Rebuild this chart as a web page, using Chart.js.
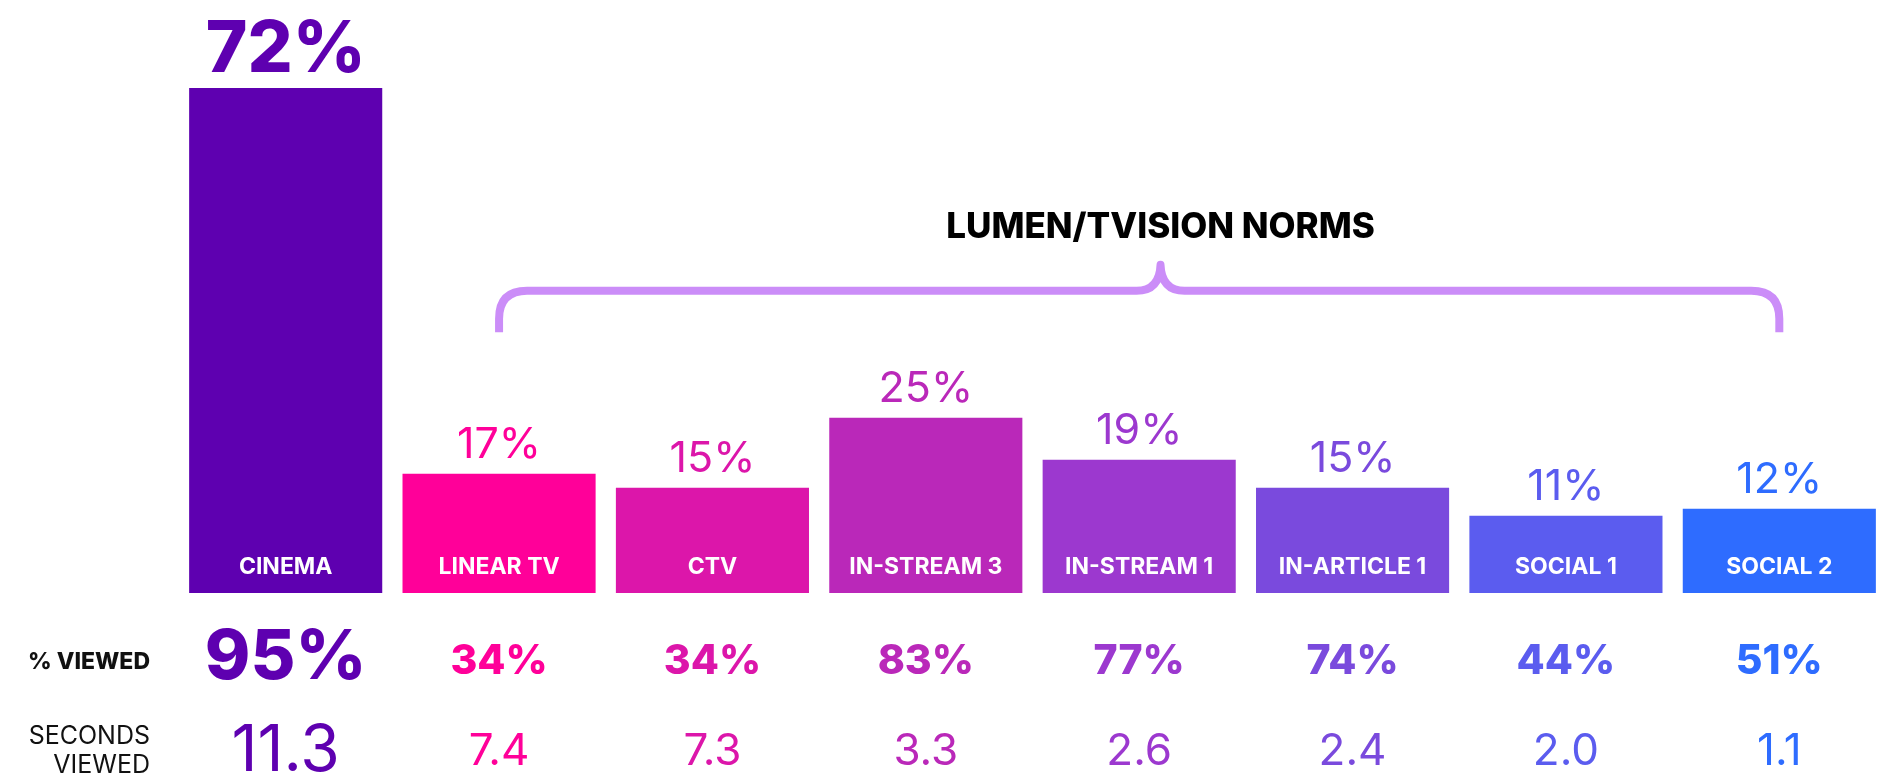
<!DOCTYPE html>
<html>
<head>
<meta charset="utf-8">
<script src="https://cdn.jsdelivr.net/npm/chart.js@4/dist/chart.umd.min.js"></script>
<style>
  html, body { margin: 0; padding: 0; background: #ffffff; }
  #wrap { width: 1891px; height: 778px; }
</style>
</head>
<body>
<div id="wrap"><canvas id="c" width="1891" height="778"></canvas></div>
<script>
// ---- data ----
const categories = ['CINEMA', 'LINEAR TV', 'CTV', 'IN-STREAM 3', 'IN-STREAM 1', 'IN-ARTICLE 1', 'SOCIAL 1', 'SOCIAL 2'];
const attentionShare = [72, 17, 15, 25, 19, 15, 11, 12];
const pctViewed = [95, 34, 34, 83, 77, 74, 44, 51];
const secondsViewed = [11.3, 7.4, 7.3, 3.3, 2.6, 2.4, 2.0, 1.1];
const barColors = ['#5E00B0', '#FF0099', '#DC16AA', '#BA28B9', '#9C38CF', '#7A4ADD', '#5B5CEF', '#2E6CFF'];
const rowLabels = ['% VIEWED', ['SECONDS', 'VIEWED']];
const bracketTitle = 'LUMEN/TVISION NORMS';
const bracketSpan = [1, 7];      // category indices covered by the bracket
const bracketPeakAt = 4.1;       // category position of the brace cusp / title

const FONT = 'Inter, "Noto Sans", sans-serif';

const overlay = {
  id: 'overlay',
  afterDatasetsDraw(chart) {
    const ctx = chart.ctx;
    const meta = chart.getDatasetMeta(0);
    const area = chart.chartArea;
    const xs = chart.scales.x, ys = chart.scales.y;
    ctx.save();
    meta.data.forEach((bar, i) => {
      const big = i === 0;
      const col = barColors[i];
      // value above bar
      ctx.fillStyle = col;
      ctx.textAlign = 'center';
      ctx.textBaseline = 'alphabetic';
      ctx.font = big ? `800 71px ${FONT}` : `400 43px ${FONT}`;
      ctx.fillText(attentionShare[i] + '%', bar.x, bar.y - 16);
      // category inside bar
      ctx.fillStyle = '#ffffff';
      ctx.font = `700 23px ${FONT}`;
      ctx.fillText(categories[i], bar.x, area.bottom - 19);
      // % viewed row
      ctx.fillStyle = col;
      ctx.textBaseline = 'middle';
      ctx.font = big ? `800 69px ${FONT}` : `800 41px ${FONT}`;
      ctx.fillText(pctViewed[i] + '%', bar.x, area.bottom + (big ? 65 : 69));
      // seconds viewed row
      ctx.font = big ? `400 64px ${FONT}` : `400 44px ${FONT}`;
      ctx.fillText(secondsViewed[i].toFixed(1), bar.x, area.bottom + 159);
    });
    // row headers
    ctx.fillStyle = '#111111';
    ctx.textAlign = 'right';
    ctx.textBaseline = 'middle';
    ctx.font = `800 23px ${FONT}`;
    ctx.fillText(rowLabels[0], area.left - 29, area.bottom + 69);
    ctx.font = `400 25px ${FONT}`;
    ctx.fillText(rowLabels[1][0], area.left - 29, area.bottom + 143);
    ctx.fillText(rowLabels[1][1], area.left - 29, area.bottom + 172);

    // bracket
    const xL = xs.getPixelForValue(bracketSpan[0]);
    const xR = xs.getPixelForValue(bracketSpan[1]);
    const x0 = xs.getPixelForValue(Math.floor(bracketPeakAt));
    const x1 = xs.getPixelForValue(Math.floor(bracketPeakAt) + 1);
    const xC = x0 + (x1 - x0) * (bracketPeakAt - Math.floor(bracketPeakAt));
    const yB = ys.getPixelForValue(37.2);
    const yH = ys.getPixelForValue(43.1);
    const yT = ys.getPixelForValue(46.8);
    const r = 28, c = 24;
    ctx.strokeStyle = '#CB8DF8';
    ctx.lineWidth = 8;
    ctx.lineJoin = 'round';
    ctx.beginPath();
    ctx.moveTo(xL, yB);
    ctx.lineTo(xL, yH + r);
    ctx.quadraticCurveTo(xL, yH, xL + r, yH);
    ctx.lineTo(xC - c, yH);
    ctx.quadraticCurveTo(xC - 1, yH, xC, yT);
    ctx.quadraticCurveTo(xC + 1, yH, xC + c, yH);
    ctx.lineTo(xR - r, yH);
    ctx.quadraticCurveTo(xR, yH, xR, yH + r);
    ctx.lineTo(xR, yB);
    ctx.stroke();
    // title
    ctx.fillStyle = '#000000';
    ctx.textAlign = 'center';
    ctx.textBaseline = 'middle';
    ctx.font = `800 35px ${FONT}`;
    ctx.fillText(bracketTitle, xC, ys.getPixelForValue(52.1));
    ctx.restore();
  }
};

new Chart(document.getElementById('c'), {
  type: 'bar',
  data: {
    labels: categories,
    datasets: [{
      data: attentionShare,
      backgroundColor: barColors,
      borderWidth: 0,
      categoryPercentage: 1,
      barPercentage: 0.905
    }]
  },
  options: {
    responsive: false,
    devicePixelRatio: 1,
    animation: false,
    layout: { padding: { left: 179, right: 5, top: 32, bottom: 185 } },
    plugins: { legend: { display: false }, tooltip: { enabled: false } },
    scales: {
      x: { display: false },
      y: { display: false, min: 0, max: 80 }
    }
  },
  plugins: [overlay]
});
</script>
</body>
</html>
